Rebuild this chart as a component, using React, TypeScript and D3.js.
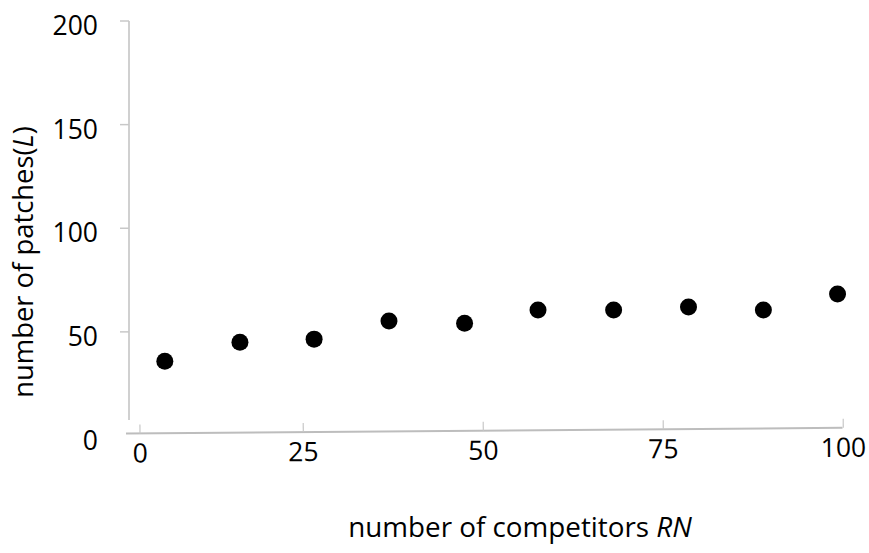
import React from "react";
import * as d3 from "d3";

// Number of competitors (x) and resulting number of patches (y)
const competitors = [3.8, 15.3, 26.5, 36.9, 47.4, 57.6, 68.1, 78.5, 88.9, 99.2];
const patches = [35.8, 45.0, 46.5, 55.2, 54.2, 60.5, 60.5, 62.0, 60.5, 68.3];

const xTicks = [0, 25, 50, 75, 100];
const yTicks = [0, 50, 100, 150, 200];

const W = 869;
const H = 553;
const FONT = "'Open Sans', 'Liberation Sans', sans-serif";

export default function App() {
  // x axis is laid out along a slightly tilted baseline
  const axisX0 = 126;
  const axisX1 = 842.5;
  const axisY = 433.5;
  const tilt = -0.46;

  const x = d3.scaleLinear().domain([0, 25, 100]).range([140, 303.3, 843.3]);
  const y = d3.scaleLinear().domain([0, 200]).range([435.5, 21]);
  const yAxisX = 129;

  return (
    <svg
      width={W}
      height={H}
      viewBox={`0 0 ${W} ${H}`}
      style={{ position: "absolute", left: 0, top: 0, display: "block", background: "#fff" }}
      fontFamily={FONT}
    >
      <rect width={W} height={H} fill="#fff" />

      {/* y axis */}
      <line x1={yAxisX} x2={yAxisX} y1={y(200)} y2={420} stroke="#d0d0d0" strokeWidth={2} />
      {yTicks.map((t) => (
        <g key={`yt${t}`}>
          {t > 0 && (
            <line x1={yAxisX - 9} x2={yAxisX} y1={y(t)} y2={y(t)} stroke="#c8c8c8" strokeWidth={1.5} />
          )}
          <text
            x={98}
            y={y(t) + 4}
            textAnchor="end"
            dominantBaseline="central"
            fontSize={26.5}
            fill="#000"
          >
            {t}
          </text>
        </g>
      ))}

      {/* x axis */}
      <g transform={`rotate(${tilt}, ${axisX0}, ${axisY})`}>
        <line x1={axisX0} x2={axisX1} y1={axisY} y2={axisY} stroke="#bdbdbd" strokeWidth={2} />
        {xTicks.map((t) => (
          <g key={`xt${t}`}>
            <line x1={x(t)} x2={x(t)} y1={axisY} y2={axisY - 9} stroke="#c8c8c8" strokeWidth={1.2} />
            <text
              x={x(t)}
              y={axisY + 19}
              textAnchor="middle"
              dominantBaseline="central"
              fontSize={26.5}
              fill="#000"
            >
              {t}
            </text>
          </g>
        ))}
      </g>

      {/* points */}
      {competitors.map((c, i) => (
        <circle key={`p${i}`} cx={x(c)} cy={y(patches[i])} r={8.5} fill="#000" />
      ))}

      {/* axis titles */}
      <text x={520} y={537} textAnchor="middle" fontSize={27.8} fill="#000">
        number of competitors <tspan fontStyle="italic">RN</tspan>
      </text>
      <text
        transform={`translate(33, 262) rotate(-90)`}
        textAnchor="middle"
        fontSize={27.4}
        fill="#000"
      >
        number of patches(<tspan fontStyle="italic">L</tspan>)
      </text>
    </svg>
  );
}
